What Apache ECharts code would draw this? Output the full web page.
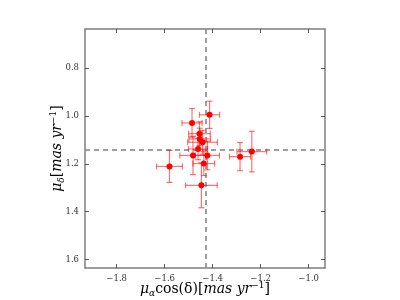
<!DOCTYPE html>
<html><head><meta charset="utf-8">
<script src="https://cdn.jsdelivr.net/npm/echarts@6/dist/echarts.min.js"></script>
<style>html,body{margin:0;padding:0;background:#fff}#c{width:400px;height:300px}</style>
</head><body><div id="c"></div>
<script>
const pmra  = [-1.413, -1.486, -1.455, -1.454, -1.442, -1.461, -1.482, -1.422, -1.437, -1.447, -1.580, -1.286, -1.237];
const pmdec = [0.995, 1.029, 1.074, 1.096, 1.110, 1.138, 1.165, 1.165, 1.199, 1.290, 1.211, 1.170, 1.149];
const pmraErr  = [0.042, 0.042, 0.045, 0.045, 0.062, 0.040, 0.055, 0.050, 0.045, 0.066, 0.054, 0.044, 0.062];
const pmdecErr = [0.057, 0.060, 0.050, 0.045, 0.050, 0.045, 0.080, 0.060, 0.050, 0.094, 0.067, 0.059, 0.085];
const meanRa = -1.43, meanDec = 1.14;
const xTicks = [-1.8, -1.6, -1.4, -1.2, -1.0];
const yTicks = [0.8, 1.0, 1.2, 1.4, 1.6];
const xMin = -1.932, xMax = -0.932, yMin = 0.636, yMax = 1.636;

const chart = echarts.init(document.getElementById('c'), null, {renderer:'canvas'});
const errData = pmra.map((x,i)=>[x, pmdec[i], pmraErr[i], pmdecErr[i]]);
const ptData = pmra.map((x,i)=>[x, pmdec[i]]);
const fmtX = v => (v<0?'\u2212':'') + Math.abs(v).toFixed(1);
const fmtY = v => v.toFixed(1);
const axisColor = '#7f7f7f';
const lblStyle = {fontFamily:'DejaVu Serif', fontSize:8.5, color:'#333'};

function xAx(pos, show){
  return {type:'value', position:pos, min:xMin, max:xMax,
    axisLine:{show:true, onZero:false, lineStyle:{color:axisColor, width:1.5}},
    axisTick:{show:true, inside:true, length:4, customValues:xTicks, lineStyle:{color:'#333', width:0.8}},
    axisLabel:{show:show, customValues:xTicks, formatter:fmtX, margin:6, ...lblStyle},
    splitLine:{show:false}};
}
function yAx(pos, show){
  return {type:'value', position:pos, min:yMin, max:yMax, inverse:true,
    axisLine:{show:true, onZero:false, lineStyle:{color:axisColor, width:1.5}},
    axisTick:{show:true, inside:true, length:4, customValues:yTicks, lineStyle:{color:'#333', width:0.8}},
    axisLabel:{show:show, customValues:yTicks, formatter:fmtY, margin:6, ...lblStyle},
    splitLine:{show:false}};
}
const rich = {
  m:{fontFamily:'DejaVu Serif', fontStyle:'italic', fontSize:14, color:'#000'},
  s:{fontFamily:'DejaVu Serif', fontStyle:'italic', fontSize:9, color:'#000', verticalAlign:'bottom', padding:[6,0,0,0]},
  n:{fontFamily:'DejaVu Serif', fontSize:14, color:'#000'},
  i:{fontFamily:'DejaVu Serif', fontStyle:'italic', fontSize:14, color:'#000'},
  p:{fontFamily:'DejaVu Serif', fontSize:9, color:'#000', verticalAlign:'top', padding:[0,0,8,0]}
};
const xa0 = xAx('bottom', true);
xa0.name = '{m|\u03bc}{s|\u03b1}{n|cos(\u03b4)[}{i|mas yr}{p|\u22121}{n|]}';
xa0.nameLocation = 'middle'; xa0.nameGap = 13; xa0.nameMoveOverlap = false;
xa0.nameTextStyle = {rich:rich};
const ya0 = yAx('left', true);
ya0.name = '{m|\u03bc}{s|\u03b4}{n|[}{i|mas yr}{p|\u22121}{n|]}';
ya0.nameLocation = 'middle'; ya0.nameGap = 19; ya0.nameRotate = 90; ya0.nameMoveOverlap = false;
ya0.nameTextStyle = {rich:rich};

chart.setOption({
  animation:false,
  backgroundColor:'#fff',
  grid:{left:85, right:75, top:29, bottom:32, containLabel:false, outerBoundsMode:'none'},
  xAxis:[xa0, xAx('top', false)],
  yAxis:[ya0, yAx('right', false)],
  series:[
    {type:'custom', xAxisIndex:0, yAxisIndex:0, data:errData, z:2,
     renderItem:function(params, api){
       const x=api.value(0), y=api.value(1), ex=api.value(2), ey=api.value(3);
       const l=api.coord([x-ex,y]), r=api.coord([x+ex,y]);
       const t=api.coord([x,y-ey]), b=api.coord([x,y+ey]);
       const c=3;
       const st={stroke:'rgba(255,0,0,0.55)', lineWidth:1.2};
       return {type:'group', children:[
         {type:'line', shape:{x1:l[0],y1:l[1],x2:r[0],y2:r[1]}, style:st},
         {type:'line', shape:{x1:l[0],y1:l[1]-c,x2:l[0],y2:l[1]+c}, style:st},
         {type:'line', shape:{x1:r[0],y1:r[1]-c,x2:r[0],y2:r[1]+c}, style:st},
         {type:'line', shape:{x1:t[0],y1:t[1],x2:b[0],y2:b[1]}, style:st},
         {type:'line', shape:{x1:t[0]-c,y1:t[1],x2:t[0]+c,y2:t[1]}, style:st},
         {type:'line', shape:{x1:b[0]-c,y1:b[1],x2:b[0]+c,y2:b[1]}, style:st}
       ]};
     }},
    {type:'scatter', xAxisIndex:0, yAxisIndex:0, data:ptData, symbolSize:6, z:3,
     itemStyle:{color:'#ff0000', opacity:1},
     markLine:{silent:true, symbol:'none', z:1, label:{show:false},
       lineStyle:{color:'#808080', type:[5,4], width:1.5},
       data:[{xAxis:meanRa},{yAxis:meanDec}]}}
  ]
});
</script></body></html>
